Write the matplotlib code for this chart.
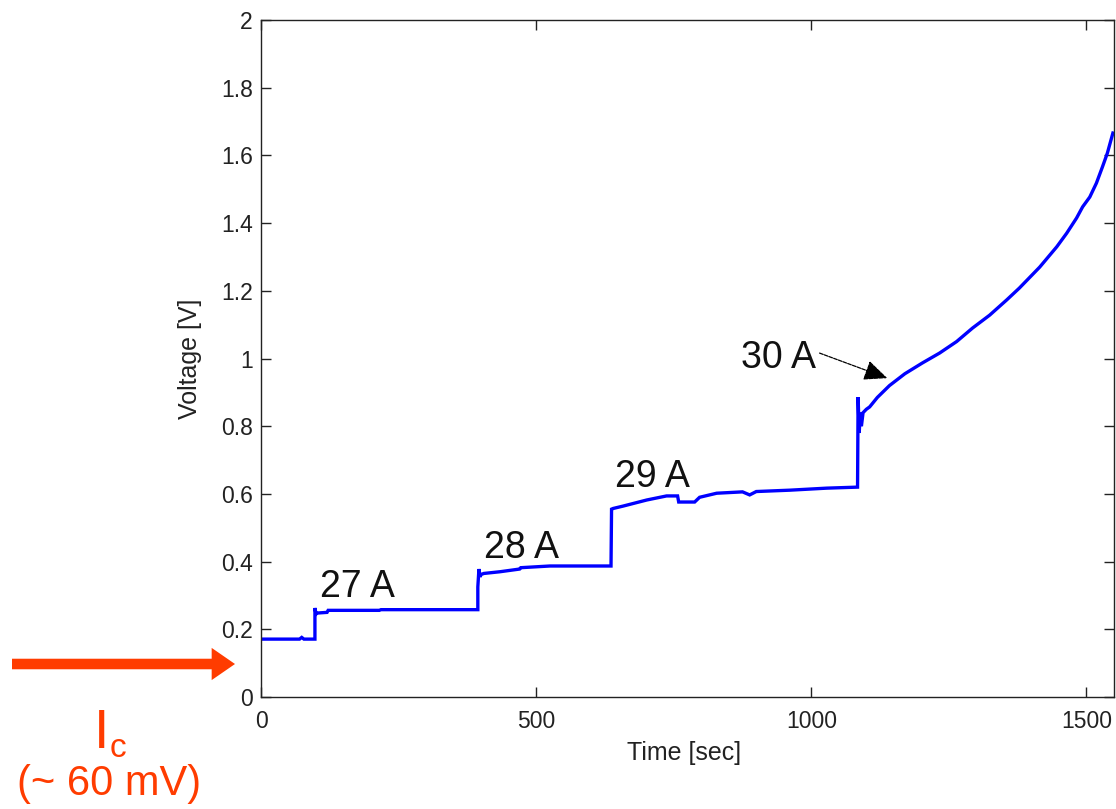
import matplotlib
matplotlib.use("Agg")
import matplotlib.pyplot as plt

plt.rcParams['font.family'] = ['Liberation Sans', 'DejaVu Sans']

# ---- data ----
time_s = [0, 70, 74, 78, 98, 98, 100, 102, 120, 122, 215, 218, 394,
          394, 396, 398, 400, 405, 434, 470, 472, 525, 636,
          637, 640, 658, 701, 737, 757, 759, 788, 797, 828, 875, 888, 900,
          961, 1028, 1084,
          1085, 1087, 1089, 1091, 1094, 1100, 1106, 1120, 1142, 1170, 1202,
          1233, 1264, 1293, 1324, 1355, 1378, 1415, 1446, 1464, 1482, 1493,
          1506, 1518, 1529, 1538, 1548]
voltage_v = [0.171, 0.171, 0.176, 0.171, 0.171, 0.263, 0.245, 0.248, 0.250,
             0.256, 0.256, 0.258, 0.258,
             0.325, 0.378, 0.355, 0.362, 0.365, 0.370, 0.378, 0.382, 0.387,
             0.387,
             0.555, 0.557, 0.564, 0.582, 0.594, 0.594, 0.576, 0.576, 0.590,
             0.602, 0.606, 0.597, 0.607, 0.611, 0.617, 0.620,
             0.886, 0.78, 0.84, 0.80, 0.84, 0.85, 0.857, 0.885, 0.92, 0.955,
             0.987, 1.016, 1.05, 1.09, 1.128, 1.173, 1.208, 1.27, 1.33, 1.37,
             1.415, 1.448, 1.477, 1.518, 1.566, 1.607, 1.666]

step_labels = ["27 A", "28 A", "29 A"]
step_label_t = [107, 405, 643]
step_label_v = [0.295, 0.411, 0.620]

x_ticks = [0, 500, 1000, 1500]
y_ticks = [0, 0.2, 0.4, 0.6, 0.8, 1, 1.2, 1.4, 1.6, 1.8, 2]
y_tick_labels = ["0", "0.2", "0.4", "0.6", "0.8", "1", "1.2", "1.4", "1.6", "1.8", "2"]

RED = '#ff3c00'

fig = plt.figure(figsize=(11.16, 8.09), dpi=100)
ax = fig.add_axes([261 / 1116, (809 - 697) / 809, 853 / 1116, 677 / 809])

ax.plot(time_s, voltage_v, color='#0000ff', lw=2.4, solid_joinstyle='miter')

ax.set_xlim(0, 1550)
ax.set_ylim(0, 2)
ax.set_xticks(x_ticks)
ax.set_xticklabels([str(v) for v in x_ticks])
ax.set_yticks(y_ticks)
ax.set_yticklabels(y_tick_labels)
ax.tick_params(direction='in', length=7, width=1, top=True, right=True,
               labelsize=16.5, colors='#222222', pad=6)
ax.tick_params(axis='x', pad=9)
for sp in ax.spines.values():
    sp.set_linewidth(1.0)
    sp.set_color('#222222')

ax.set_xlabel("Time [sec]", fontsize=18, color='#222222', va='center')
ax.xaxis.set_label_coords((684 - 261) / 853, (697 - 753) / 677)
ax.set_ylabel("Voltage [V]", fontsize=18, color='#222222', va='center')
ax.yaxis.set_label_coords((190 - 261) / 853, 0.5)

for lab, t, v in zip(step_labels, step_label_t, step_label_v):
    ax.text(t, v, lab, fontsize=27, ha='left', va='baseline', color='#111111')

ax.text(872, 0.972, "30 A", fontsize=27, ha='left', va='baseline', color='#111111')
ax.annotate('', xy=(1138, 0.942), xytext=(1015, 1.016),
            arrowprops=dict(arrowstyle='-|>,head_length=0.8,head_width=0.35',
                            mutation_scale=18, color='black', lw=0.9,
                            linestyle=(0, (3, 1)), shrinkA=0, shrinkB=0))

# red arrow outside the axes
ax.annotate('', xy=(235, 145), xycoords='figure pixels',
            xytext=(12, 145), textcoords='figure pixels',
            arrowprops=dict(arrowstyle='simple,head_length=0.42,head_width=0.58,tail_width=0.19',
                            mutation_scale=40, color=RED, lw=0,
                            shrinkA=0, shrinkB=0),
            annotation_clip=False)

fig.text(94 / 1116, (809 - 748) / 809, "I", fontsize=40,
         color=RED, ha='left', va='baseline')
fig.text(110 / 1116, (809 - 757) / 809, "c", fontsize=24,
         color=RED, ha='left', va='baseline')
fig.text(109 / 1116, (809 - 795) / 809, "(~ 60 mV)", fontsize=30,
         color=RED, ha='center', va='baseline')

fig.savefig("out.png", dpi=100)
